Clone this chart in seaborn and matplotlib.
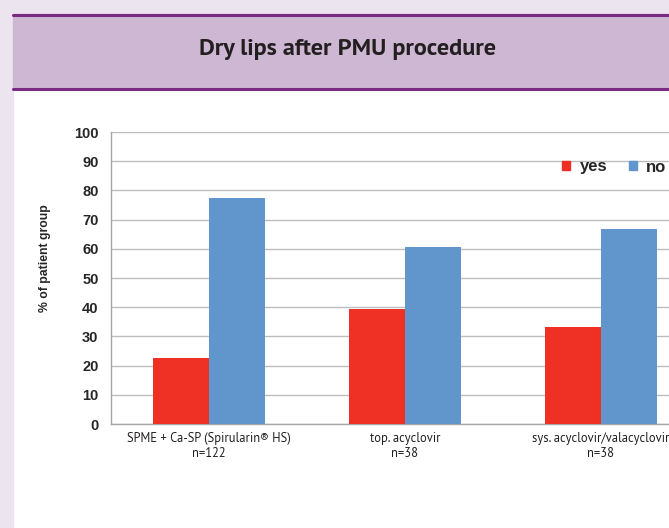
import pandas as pd
import matplotlib.pyplot as plt
import seaborn as sns
from matplotlib.patches import Rectangle
from matplotlib.lines import Line2D

groups = ['SPME + Ca-SP (Spirularin® HS)\nn=122', 'top. acyclovir\nn=38', 'sys. acyclovir/valacyclovir\nn=38']
yes_vals = [22.6, 39.5, 33.3]
no_vals = [77.4, 60.5, 66.7]
answers = ['yes', 'no']
colors = {'yes': '#EE3124', 'no': '#6096CB'}

df = pd.DataFrame({
    'group': groups * 2,
    'answer': ['yes'] * 3 + ['no'] * 3,
    'pct': yes_vals + no_vals,
})

sns.set_style('white')
plt.rcParams['font.family'] = ['Liberation Sans', 'DejaVu Sans']
myriad = ['PT Sans', 'DejaVu Sans']

W, H = 669, 528
fig = plt.figure(figsize=(W / 100, H / 100), dpi=100)

# page decoration
fig.patches.append(Rectangle((0, 0), 13 / W, 1, transform=fig.transFigure, color='#ECE5EF', zorder=0))
fig.patches.append(Rectangle((0, 1 - 14 / H), 1, 14 / H, transform=fig.transFigure, color='#ECE5EF', zorder=0))
fig.patches.append(Rectangle((13 / W, 1 - 89 / H), 1, 75 / H, transform=fig.transFigure, color='#CDB7D3', zorder=0))
for yy in (14.5, 88.5):
    fig.add_artist(Line2D([13 / W, 1], [1 - yy / H, 1 - yy / H], transform=fig.transFigure, color='#7A2A80', lw=2.2))
fig.text(348 / W, 1 - 50 / H, 'Dry lips after PMU procedure', ha='center', va='center',
         fontsize=17.5, fontweight='bold', family=myriad, color='#231F20')

# plot area (runs past the right edge like the source)
ax = fig.add_axes([111 / W, (H - 424) / H, 588 / W, 292 / H])
sns.barplot(data=df, x='group', y='pct', hue='answer', hue_order=answers, palette=colors,
            width=0.572, gap=0, saturation=1, linewidth=0, ax=ax, zorder=3)

ax.set_ylim(0, 100)
ax.set_xlim(-0.5, 2.5)
ax.set_yticks(range(0, 101, 10))
ax.yaxis.grid(True, color='#BDBDBD', lw=1)
ax.set_axisbelow(True)
for s in ['top', 'right']:
    ax.spines[s].set_visible(False)
for s in ['left', 'bottom']:
    ax.spines[s].set_color('#A6A6A6')
    ax.spines[s].set_linewidth(1)
ax.tick_params(axis='y', length=4, color='#A6A6A6', width=1, pad=5, labelsize=10.5)
for lab in ax.get_yticklabels():
    lab.set_fontweight('bold')
ax.tick_params(axis='x', length=0, pad=6)
ax.set_xticks(range(3))
ax.set_xticklabels(groups, fontsize=9, family=myriad, color='#231F20', linespacing=1.15)
ax.set_xlabel('')
ax.set_ylabel('')
fig.text(45 / W, 1 - 258 / H, '% of patient group', rotation=90, ha='center', va='center',
         fontsize=8.8, fontweight='bold')

ax.legend_.remove()
handles = [Rectangle((0, 0), 1, 1, color=colors[a]) for a in answers]
fig.legend(handles, answers, loc='center left', bbox_to_anchor=(547 / W, 1 - 167 / H), ncol=2,
           frameon=False, handlelength=0.5, handleheight=0.5, handletextpad=0.55, columnspacing=1.3,
           prop={'weight': 'bold', 'size': 12})

fig.savefig('out.png', dpi=100)
